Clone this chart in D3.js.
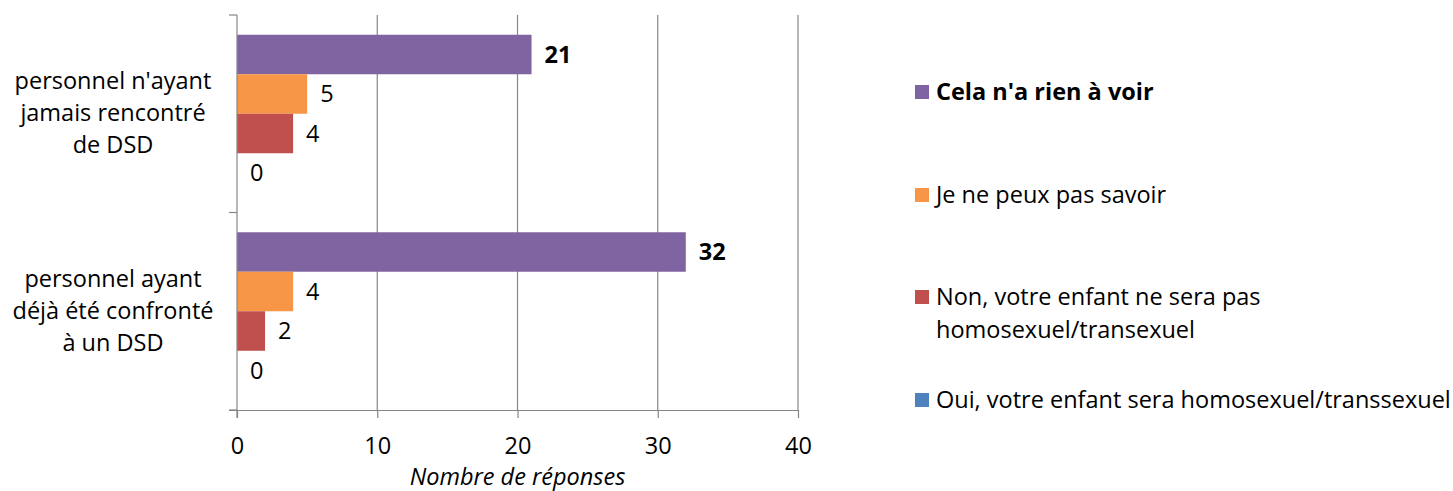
<!DOCTYPE html>
<html>
<head>
<meta charset="utf-8">
<script src="https://cdn.jsdelivr.net/npm/d3@7"></script>
<style>
  body { margin: 0; background: #fff; }
  text { font-family: "Open Sans", sans-serif; fill: #000; }
</style>
</head>
<body>
<div id="chart"></div>
<script>
// categories (top to bottom) and series
const categories = ["personnel n'ayant jamais rencontré de DSD", "personnel ayant déjà été confronté à un DSD"];
const categoryLines = [["personnel n'ayant", "jamais rencontré", "de DSD"], ["personnel ayant", "déjà été confronté", "à un DSD"]];
const seriesNames = ["Cela n'a rien à voir", "Je ne peux pas savoir", "Non, votre enfant ne sera pas homosexuel/transexuel", "Oui, votre enfant sera homosexuel/transsexuel"];
const legendLines = [["Cela n'a rien à voir"], ["Je ne peux pas savoir"], ["Non, votre enfant ne sera pas", "homosexuel/transexuel"], ["Oui, votre enfant sera homosexuel/transsexuel"]];
const seriesColors = ["#8064A2", "#F79646", "#C0504D", "#4F81BD"];
const rienAVoir = [21, 32];
const peuxPasSavoir = [5, 4];
const nonSeraPas = [4, 2];
const ouiSera = [0, 0];
const xTicks = [0, 10, 20, 30, 40];

const values = [rienAVoir, peuxPasSavoir, nonSeraPas, ouiSera];

const width = 1453, height = 491;
const plot = { left: 237, right: 798, top: 15, bottom: 410 };
const fontSize = "23.5px";

const svg = d3.select("#chart").append("svg")
  .attr("width", width)
  .attr("height", height);

const x = d3.scaleLinear().domain([0, 40]).range([plot.left, plot.right]);
const y0 = d3.scaleBand().domain(categories).range([plot.top, plot.bottom]);
const y1 = d3.scaleBand().domain(seriesNames).range([0, y0.bandwidth()]).paddingOuter(0.5);

// vertical gridlines
svg.append("g")
  .selectAll("line")
  .data(xTicks.slice(1))
  .join("line")
  .attr("x1", d => x(d)).attr("x2", d => x(d))
  .attr("y1", plot.top).attr("y2", plot.bottom)
  .attr("stroke", "#868686").attr("stroke-width", 1.2);

// bars
const groups = svg.append("g")
  .selectAll("g")
  .data(categories)
  .join("g")
  .attr("transform", d => `translate(0,${y0(d)})`);

groups.each(function(cat, ci) {
  const g = d3.select(this);
  const rows = seriesNames.map((s, si) => ({ s: s, si: si, v: values[si][ci] }));
  g.selectAll("rect")
    .data(rows)
    .join("rect")
    .attr("x", x(0))
    .attr("y", d => y1(d.s))
    .attr("width", d => x(d.v) - x(0))
    .attr("height", y1.bandwidth())
    .attr("fill", d => seriesColors[d.si]);
  g.selectAll("text.val")
    .data(rows)
    .join("text")
    .attr("class", "val")
    .attr("x", d => x(d.v) + 13)
    .attr("y", d => y1(d.s) + y1.bandwidth() / 2)
    .attr("dy", "0.36em")
    .style("font-size", fontSize)
    .style("font-weight", d => d.si === 0 ? "bold" : "normal")
    .text(d => d.v);
});

// x axis
const xAxis = svg.append("g")
  .attr("transform", `translate(0,${plot.bottom})`)
  .call(d3.axisBottom(x).tickValues(xTicks).tickSize(8).tickPadding(19));
xAxis.select(".domain").attr("stroke", "#868686").attr("stroke-width", 1.2)
  .attr("d", `M${plot.left - 8},0.5H${plot.right}`);
xAxis.selectAll(".tick line").attr("stroke", "#868686").attr("stroke-width", 1.2);
xAxis.selectAll(".tick text").style("font-size", fontSize).style("font-family", "'Open Sans', sans-serif").attr("fill", "#000");

// y axis
const yTickPos = [plot.top, y0(categories[1]), plot.bottom];
svg.append("line")
  .attr("x1", plot.left).attr("x2", plot.left)
  .attr("y1", plot.top).attr("y2", plot.bottom + 8)
  .attr("stroke", "#868686").attr("stroke-width", 1.2);
svg.append("g")
  .selectAll("line")
  .data(yTickPos)
  .join("line")
  .attr("x1", plot.left - 8).attr("x2", plot.left)
  .attr("y1", d => d).attr("y2", d => d)
  .attr("stroke", "#868686").attr("stroke-width", 1.2);

// category labels
categories.forEach((c, ci) => {
  const mid = y0(c) + y0.bandwidth() / 2;
  svg.append("text")
    .attr("text-anchor", "middle")
    .style("font-size", fontSize)
    .selectAll("tspan")
    .data(categoryLines[ci])
    .join("tspan")
    .attr("x", 113)
    .attr("y", (d, i) => mid - 1 + (i - 1) * 32)
    .attr("dy", "0.36em")
    .text(d => d);
});

// axis title
svg.append("text")
  .attr("x", x(20))
  .attr("y", 485)
  .attr("text-anchor", "middle")
  .style("font-size", fontSize)
  .style("font-style", "italic")
  .text("Nombre de réponses");

// legend
const legendY = [92, 195, 297, 400];
const legend = svg.append("g")
  .selectAll("g")
  .data(seriesNames)
  .join("g")
  .attr("transform", (d, i) => `translate(915,${legendY[i]})`);
legend.append("rect")
  .attr("x", 0).attr("y", -7)
  .attr("width", 14).attr("height", 14)
  .attr("fill", (d, i) => seriesColors[i]);
legend.append("text")
  .style("font-size", fontSize)
  .style("font-weight", (d, i) => i === 0 ? "bold" : "normal")
  .selectAll("tspan")
  .data((d, i) => legendLines[i])
  .join("tspan")
  .attr("x", 21)
  .attr("y", (d, i) => i * 33)
  .attr("dy", "0.36em")
  .text(d => d);
</script>
</body>
</html>
